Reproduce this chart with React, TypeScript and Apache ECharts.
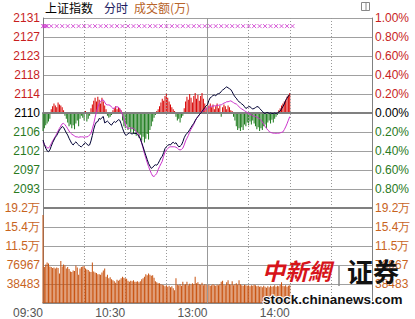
import React, { useEffect, useRef } from 'react';
import * as echarts from 'echarts';

const prevClose = 2110;
const markLevel = 2129.3;

// minute index 0..180 (09:30 .. 14:00)
const price = [
  2104.0, 2103.0, 2102.2, 2101.6, 2101.4, 2101.8, 2102.6, 2103.4, 2104.0, 2104.6,
  2105.0, 2105.6, 2106.2, 2106.6, 2107.0, 2106.8, 2106.2, 2105.6, 2105.1, 2104.4,
  2103.8, 2103.2, 2102.9, 2103.3, 2103.6, 2103.2, 2102.9, 2102.6, 2102.5, 2102.8,
  2103.2, 2103.4, 2103.1, 2102.8, 2102.9, 2103.8, 2105.0, 2106.4, 2107.4, 2108.0,
  2108.1, 2108.8, 2108.6, 2109.0, 2109.2, 2107.8, 2108.0, 2108.2, 2107.9, 2107.5,
  2107.3, 2107.8, 2108.1, 2107.9, 2108.2, 2108.5, 2108.4, 2107.6, 2106.6, 2105.8,
  2105.2, 2105.1, 2105.4, 2105.6, 2105.5, 2105.3, 2105.6, 2105.4, 2105.5, 2105.2,
  2104.8, 2104.3, 2103.4, 2102.5, 2101.5, 2100.6, 2099.7, 2098.8, 2098.2, 2097.7,
  2097.9, 2098.3, 2098.5, 2098.4, 2098.8, 2099.4, 2100.0, 2100.4, 2101.2, 2102.1,
  2102.5, 2102.8, 2103.0, 2102.9, 2103.3, 2103.5, 2103.2, 2103.4, 2102.9, 2102.5,
  2102.6, 2102.9, 2103.6, 2104.5, 2105.1, 2105.5, 2105.8, 2106.3, 2106.8, 2107.3,
  2107.7, 2108.3, 2108.8, 2109.2, 2109.6, 2110.0, 2110.3, 2110.8, 2111.2, 2111.6,
  2111.8, 2112.8, 2113.4, 2113.6, 2113.9, 2114.0, 2113.8, 2114.2, 2114.3, 2114.4,
  2114.8, 2115.1, 2115.3, 2115.6, 2115.8, 2115.6, 2115.4, 2115.2, 2114.7, 2114.1,
  2113.6, 2113.3, 2112.8, 2112.5, 2112.3, 2112.0, 2111.8, 2111.4, 2111.0, 2111.2,
  2111.4, 2111.4, 2111.1, 2110.9, 2111.0, 2111.2, 2111.4, 2111.4, 2111.0, 2110.7,
  2110.4, 2110.0, 2109.9, 2110.1, 2110.1, 2109.9, 2110.0, 2109.9, 2109.9, 2110.0,
  2109.9, 2110.0, 2110.2, 2110.4, 2110.9, 2111.4, 2112.0, 2112.8, 2113.3, 2113.8,
  2114.0,
];

const avgPrice = [
  2103.6, 2103.0, 2102.6, 2102.3, 2102.2, 2102.6, 2103.2, 2103.8, 2104.3, 2104.8,
  2105.4, 2106.0, 2106.6, 2107.1, 2107.6, 2107.7, 2107.4, 2107.0, 2106.5, 2106.0,
  2105.6, 2105.3, 2105.1, 2104.9, 2104.7, 2104.7, 2104.6, 2104.7, 2104.7, 2104.7,
  2104.6, 2104.7, 2104.7, 2104.8, 2105.1, 2105.5, 2106.5, 2107.6, 2109.0, 2110.3,
  2111.3, 2112.1, 2112.6, 2112.9, 2112.9, 2112.4, 2111.9, 2111.8, 2111.8, 2111.7,
  2111.3, 2111.0, 2111.1, 2111.3, 2111.4, 2111.3, 2110.9, 2110.3, 2109.6, 2108.7,
  2107.6, 2106.8, 2106.6, 2106.6, 2106.7, 2106.6, 2106.6, 2106.3, 2105.9, 2105.5,
  2105.1, 2104.2, 2103.3, 2102.2, 2101.0, 2100.0, 2099.0, 2098.1, 2097.3, 2096.6,
  2096.0, 2095.9, 2096.2, 2096.6, 2097.4, 2098.1, 2098.7, 2099.3, 2100.4, 2101.3,
  2101.8, 2102.1, 2102.4, 2102.5, 2102.5, 2102.5, 2102.5, 2102.4, 2102.2, 2101.9,
  2101.8, 2101.9, 2102.2, 2102.9, 2103.8, 2104.4, 2105.0, 2105.8, 2106.4, 2106.9,
  2107.5, 2108.2, 2108.8, 2109.2, 2109.6, 2110.0, 2110.3, 2110.5, 2110.7, 2110.9,
  2111.0, 2111.2, 2111.4, 2111.5, 2111.5, 2111.6, 2111.6, 2111.7, 2111.7, 2111.8,
  2111.8, 2112.0, 2112.2, 2112.3, 2112.5, 2112.5, 2112.6, 2112.7, 2112.5, 2112.3,
  2112.1, 2112.0, 2111.7, 2111.4, 2111.1, 2110.9, 2110.7, 2110.5, 2110.3, 2110.1,
  2109.9, 2109.7, 2109.6, 2109.4, 2109.3, 2109.2, 2109.1, 2108.9, 2108.7, 2108.4,
  2108.0, 2107.5, 2107.0, 2106.6, 2106.2, 2105.9, 2105.7, 2105.6, 2105.5, 2105.5,
  2105.5, 2105.5, 2105.5, 2105.6, 2105.7, 2105.8, 2106.3, 2106.9, 2107.6, 2108.4,
  2109.2,
];

// buy/sell strength bars (in 0.01% units, + red / - green)
const strength = [
  -19, -16, -13, -11, -9, -6, 4, 7, 10, 8,
  6, 11, 9, 8, 6, 3, -3, -6, -10, -14,
  -12, -16, -13, -17, -11, -8, -14, -6, -3, -5,
  -8, 2, -9, -6, -3, 5, 9, 13, 16, 12,
  17, 14, 10, 16, 12, 8, 4, -3, -5, -4,
  -2, 3, 5, 7, 4, 6, 5, 3, -8, -14,
  -16, -12, -18, -15, -20, -17, -22, -19, -24, -21,
  -26, -23, -29, -25, -31, -27, -22, -28, -18, -14,
  -9, -5, -2, 2, 4, 7, 11, 15, 13, 18,
  21, 16, 12, 9, 6, 4, 2, -4, -8, -6,
  -10, -5, -3, 5, 12, 17, 14, 20, 16, 11,
  18, 21, 15, 19, 13, 18, 21, 15, 10, 6,
  -12, 8, 10, 6, 9, 4, 7, 10, 5, 8,
  -4, 6, 9, 7, 4, 8, 6, 3, 2, -4,
  -8, -14, -18, -16, -19, -15, -18, -12, -14, -10,
  -13, -9, -12, -8, -11, -14, -17, -15, -19, -16,
  -18, -14, -12, -16, -10, -8, -11, -7, -10, -6,
  -4, -2, 3, 5, 8, 10, 12, 14, 17, 19,
  21,
];

const volume = [
  178000, 73000, 78000, 82000, 80000, 74000, 73000, 71000, 72000, 70000,
  72000, 71000, 60000, 85000, 74000, 78000, 76000, 70000, 73000, 69000,
  64000, 63000, 66000, 65000, 76000, 72000, 57000, 70000, 73000, 74000,
  75000, 70000, 68000, 67000, 64000, 63000, 82000, 64000, 62000, 61000,
  58000, 58000, 57000, 62000, 66000, 70000, 53000, 57000, 50000, 52000,
  48000, 46000, 44000, 41000, 47000, 45000, 47000, 50000, 53000, 51000,
  50000, 49000, 45000, 43000, 45000, 44000, 46000, 43000, 43000, 44000,
  42000, 44000, 48000, 50000, 53000, 58000, 56000, 60000, 57000, 55000,
  56000, 51000, 44000, 42000, 40000, 40000, 38000, 37000, 36000, 34000,
  36000, 33000, 35000, 32000, 34000, 30000, 26000, 50000, 37000, 36000,
  38000, 35000, 43000, 37000, 38000, 43000, 36000, 39000, 37000, 40000,
  38000, 53000, 40000, 42000, 38000, 37000, 41000, 36000, 38000, 37000,
  98000, 37000, 35000, 36000, 38000, 36000, 35000, 37000, 36000, 38000,
  43000, 45000, 37000, 36000, 42000, 46000, 38000, 37000, 44000, 36000,
  38000, 40000, 37000, 46000, 38000, 36000, 35000, 37000, 36000, 35000,
  36000, 34000, 36000, 35000, 37000, 36000, 34000, 35000, 33000, 34000,
  32000, 35000, 33000, 31000, 34000, 32000, 35000, 33000, 34000, 36000,
  33000, 35000, 34000, 37000, 42000, 35000, 34000, 36000, 33000, 35000,
  36000,
];

const markIndex = [
  0, 1, 2, 3, 6, 10, 14, 18, 22, 26, 30, 34, 38, 42, 46, 50, 54, 58, 62, 66,
  70, 74, 78, 82, 86, 90, 94, 98, 102, 106, 110, 114, 118, 122, 126, 130, 134,
  138, 142, 146, 150, 154, 158, 162, 166, 170, 174, 178, 182,
];

const xTickIndex = [0, 60, 120, 180];
const xTickLabels = ['09:30', '10:30', '13:00', '14:00'];
const priceTickLabels = ['2131', '2127', '2123', '2118', '2114', '2110', '2106', '2102', '2097', '2093', ''];
const pctTickLabels = ['1.00%', '0.80%', '0.60%', '0.40%', '0.20%', '0.00%', '0.20%', '0.40%', '0.60%', '0.80%', ''];
const volTickLabels = ['', '38483', '76967', '11.5万', '15.4万', '19.2万'];
const volStep = 38483;
const volMax = 192415;

const TOTAL = 241;
const RED = '#c81e1e';
const GREEN = '#2a7a1e';
const VOLTXT = '#c8641e';
const FONT = '"Liberation Sans", Arial, sans-serif';

const toBp = (p: number) => ((p - prevClose) / prevClose) * 10000;

export default function App() {
  const ref = useRef<HTMLDivElement>(null);
  useEffect(() => {
    if (!ref.current) return;
    const chart = echarts.init(ref.current, null, { renderer: 'svg' });
    const cats = Array.from({ length: TOTAL }, (_, i) => String(i));
    const pctColor = (v: any) => {
      const n = Number(v);
      return n > 0 ? RED : n < 0 ? GREEN : '#000';
    };
    const vSplit = (i: number) => i > 0 && i < TOTAL - 1 && i % 30 === 0 && i !== 120;
    const gridLine = { show: true, lineStyle: { color: '#a0a0a0', width: 1 } };
    const option: any = {
      animation: false,
      backgroundColor: '#fff',
      grid: [
        { left: 43, top: 18, width: 329, height: 190 },
        { left: 43, top: 208, width: 329, height: 95 },
      ],
      xAxis: [
        {
          type: 'category', gridIndex: 0, data: cats, boundaryGap: false,
          axisLine: { show: true, onZero: true, lineStyle: { color: '#808080', width: 2 } },
          axisTick: { show: false }, axisLabel: { show: false },
          splitLine: { show: true, interval: vSplit, lineStyle: { color: '#999', type: [1, 2], width: 1 } },
          z: 3,
        },
        {
          type: 'category', gridIndex: 1, data: cats, boundaryGap: false,
          axisLine: { show: true, lineStyle: { color: '#808080', width: 1.5 } },
          axisTick: { show: false },
          axisLabel: {
            show: true, interval: (i: number) => xTickIndex.includes(i),
            formatter: (_v: string, i: number) => {
              const k = xTickIndex.indexOf(i);
              return k >= 0 ? xTickLabels[k] : '';
            },
            align: 'right', margin: 4, color: '#555', fontSize: 12, fontFamily: FONT,
          },
          splitLine: { show: true, interval: vSplit, lineStyle: { color: '#999', type: [1, 2], width: 1 } },
        },
      ],
      yAxis: [
        {
          type: 'value', gridIndex: 0, position: 'left', min: -100, max: 100, interval: 20,
          axisLine: { show: true, lineStyle: { color: '#808080' } }, axisTick: { show: false },
          axisLabel: {
            margin: 3, fontSize: 12, fontFamily: FONT, color: pctColor,
            formatter: (v: number) => priceTickLabels[Math.round((100 - v) / 20)],
          },
          splitLine: gridLine,
        },
        {
          type: 'value', gridIndex: 0, position: 'right', min: -100, max: 100, interval: 20,
          axisLine: { show: true, lineStyle: { color: '#808080' } }, axisTick: { show: false },
          axisLabel: {
            margin: 3, fontSize: 12, fontFamily: FONT, color: pctColor,
            formatter: (v: number) => pctTickLabels[Math.round((100 - v) / 20)],
          },
          splitLine: { show: false },
        },
        {
          type: 'value', gridIndex: 1, position: 'left', min: 0, max: volMax, interval: volStep,
          axisLine: { show: true, lineStyle: { color: '#808080' } }, axisTick: { show: false },
          axisLabel: {
            margin: 3, fontSize: 12, fontFamily: FONT, color: VOLTXT,
            formatter: (v: number) => volTickLabels[Math.round(v / volStep)],
          },
          splitLine: gridLine,
        },
        {
          type: 'value', gridIndex: 1, position: 'right', min: 0, max: volMax, interval: volStep,
          axisLine: { show: true, lineStyle: { color: '#808080' } }, axisTick: { show: false },
          axisLabel: {
            margin: 3, fontSize: 12, fontFamily: FONT, color: VOLTXT,
            formatter: (v: number) => volTickLabels[Math.round(v / volStep)],
          },
          splitLine: { show: false },
        },
      ],
      series: [
        {
          type: 'bar', xAxisIndex: 0, yAxisIndex: 0, barWidth: 1,
          data: strength.map((v) => ({ value: v, itemStyle: { color: v >= 0 ? '#d80000' : '#1a7a1a' } })),
          z: 1,
        },
        {
          type: 'line', xAxisIndex: 0, yAxisIndex: 0, data: avgPrice.map(toBp),
          showSymbol: false, lineStyle: { color: '#cc33cc', width: 1 }, z: 4,
        },
        {
          type: 'line', xAxisIndex: 0, yAxisIndex: 0, data: price.map(toBp),
          showSymbol: false, lineStyle: { color: '#000033', width: 1 }, z: 5,
          markLine: {
            silent: true, symbol: ['none', 'none'], label: { show: false },
            lineStyle: { color: '#999', width: 1, type: 'solid' },
            data: [{ xAxis: 120 }],
          },
        },
        {
          type: 'scatter', xAxisIndex: 0, yAxisIndex: 0,
          data: markIndex.map((i) => [i, toBp(markLevel)]),
          symbol: 'path://M0,0L10,10M10,0L0,10', symbolSize: 4,
          itemStyle: { color: 'transparent', borderColor: '#cc33cc', borderWidth: 1 },
          z: 6,
        },
        {
          type: 'bar', xAxisIndex: 1, yAxisIndex: 2, barWidth: 1, data: volume,
          itemStyle: { color: '#c8520f' },
          markLine: {
            silent: true, symbol: ['none', 'none'], label: { show: false },
            data: [
              { xAxis: 120, lineStyle: { color: '#999', width: 1, type: 'solid' } },
              { yAxis: volMax, lineStyle: { color: '#808080', width: 2, type: 'solid' } },
            ],
          },
        },
      ],
      graphic: [
        { type: 'text', left: 45, top: 1, style: { text: '上证指数', fill: '#000', font: '12px "Noto Sans CJK SC"' } },
        { type: 'text', left: 104, top: 1, style: { text: '分时', fill: '#1a1a60', font: '12px "Noto Sans CJK SC"' } },
        { type: 'text', left: 134, top: 1, style: { text: '成交额(万)', fill: '#b8642a', font: '12px "Noto Sans CJK SC"' } },
        { type: 'rect', left: 361, top: 2, shape: { width: 8, height: 8 }, style: { fill: '#fff', stroke: '#888', lineWidth: 1 } },
        { type: 'line', shape: { x1: 366, y1: 2, x2: 366, y2: 10 }, style: { stroke: '#888', lineWidth: 1 } },
        {
          type: 'text', left: 262, top: 258, z: 100,
          style: { text: '中新網', fill: '#d7141a', font: 'italic bold 23px "Noto Sans CJK TC"' },
        },
        { type: 'line', z: 100, shape: { x1: 339, y1: 266, x2: 339, y2: 286 }, style: { stroke: '#888', lineWidth: 1.5 } },
        {
          type: 'text', left: 347, top: 257, z: 100,
          style: { text: '证券', fill: '#111', font: 'bold 26px "Noto Sans CJK SC"' },
        },
        {
          type: 'text', left: 262, top: 291, z: 100,
          style: { text: 'stock.chinanews.com', fill: '#111', font: 'bold 13.5px "Liberation Sans", Arial', stroke: '#fff', lineWidth: 2 },
        },
      ],
    };
    chart.setOption(option);
    return () => chart.dispose();
  }, []);
  return <div ref={ref} style={{ position: 'absolute', left: 0, top: 0, width: 415, height: 319 }} />;
}
